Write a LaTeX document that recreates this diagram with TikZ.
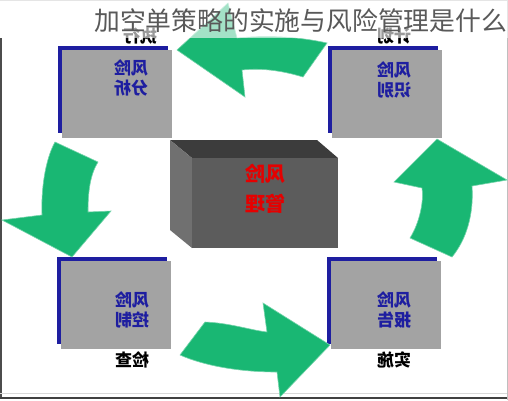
\documentclass[tikz,border=0pt]{standalone}
\usepackage{graphicx}
\usepackage{fontspec}
\newfontfamily\cjk{Noto Sans CJK SC}
\definecolor{arrowgreen}{RGB}{25,183,115}
\definecolor{boxblue}{RGB}{30,30,160}
\definecolor{boxgray}{RGB}{163,163,163}
\definecolor{topface}{RGB}{60,60,60}
\definecolor{sideface}{RGB}{112,112,112}
\definecolor{frontface}{RGB}{92,92,92}
\newcommand{\mirrored}[2]{\reflectbox{\begin{tabular}{@{}c@{}}#1\\#2\end{tabular}}}
\begin{document}
\begin{tikzpicture}[
    x=1pt, y=-1pt,
    bigarrow/.style={fill=arrowgreen, draw=arrowgreen!60, line width=0.6pt},
    boxtext/.style={inner sep=0pt, text=boxblue, font=\cjk\bfseries\fontsize{17}{20}\selectfont},
    coretext/.style={inner sep=0pt, text=red!90!black, font=\cjk\bfseries\fontsize{20}{30}\selectfont},
    steplabel/.style={inner sep=0pt, text=black, font=\cjk\bfseries\fontsize{17}{20}\selectfont},
]
\useasboundingbox (0,0) rectangle (508,400);
\fill[white] (0,0) rectangle (508,400);

% Frame
\draw[black!70, line width=1.5pt] (1,38) -- (1,397);
\draw[black!75, line width=2pt] (0,397.5) -- (508,397.5);
\draw[black!15] (0,393) -- (508,393);
\draw[black!25] (0,0.5) -- (507.5,0.5) -- (507.5,400);

% Boxes
\foreach \bx/\by in {58/46, 328/46, 57/257, 327/257}{
  \fill[boxblue] (\bx,\by) rectangle ++(110,87);
  \fill[boxgray] (\bx+4,\by+4) rectangle ++(110,88);
}

\node[boxtext] (ana) at (131,80) {\mirrored{风险}{分析}};
\node[boxtext] (ide) at (394,82) {\mirrored{风险}{识别}};
\node[boxtext] (ctl) at (132,312) {\mirrored{风险}{控制}};
\node[boxtext] (rep) at (394,312) {\mirrored{风险}{报告}};

% Step labels
\node[steplabel] (act) at (140,36) {\reflectbox{执行}};
\node[steplabel] (plan) at (394,36) {\reflectbox{计划}};
\node[steplabel] (chk) at (132,360) {\reflectbox{检查}};
\node[steplabel] (do) at (394,360) {\reflectbox{实施}};

% Core block
\fill[topface] (170,140) -- (317,140) -- (338,158) -- (192,158) -- cycle;
\fill[sideface] (170,140) -- (192,158) -- (192,248) -- (170,230) -- cycle;
\fill[frontface] (192,158) rectangle (338,248);
\node[coretext] (core) at (265,190) {\mirrored{风险}{管理}};

% Arrows
\filldraw[bigarrow] (177,50) -- (228,3) -- (237,38)
  .. controls (270,35) and (300,37) .. (327,43) -- (303,77)
  .. controls (280,70) and (260,68) .. (242,70) -- (245,97) -- cycle;
\filldraw[bigarrow] (55,142) -- (98,162)
  .. controls (90,175) and (88,192) .. (88,212) -- (111,211) -- (72,257)
  -- (2,220) -- (42,215) .. controls (41,190) and (45,160) .. cycle;
\filldraw[bigarrow] (205,322) .. controls (230,323) and (250,330) .. (267,332)
  -- (263,303) -- (330,345) -- (280,397) -- (277,372)
  .. controls (240,372) and (205,366) .. (180,355) -- cycle;
\filldraw[bigarrow] (437,139) -- (507,180) -- (472,186)
  .. controls (474,215) and (466,240) .. (452,257) -- (410,238)
  .. controls (420,222) and (424,200) .. (422,188) -- (394,182) -- cycle;

% Title band
\fill[white, opacity=0.6] (0,0) rectangle (508,38);
\node[anchor=west, inner sep=0pt, text=black!65, font=\cjk\fontsize{25.8}{30}\selectfont] (title) at (94,21) {加空单策略的实施与风险管理是什么};

\end{tikzpicture}
\end{document}
